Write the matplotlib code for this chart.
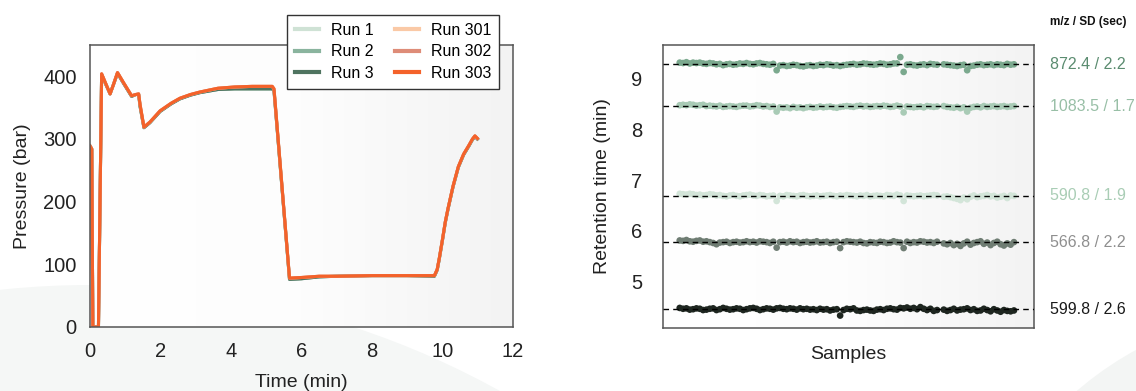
import numpy as np
import matplotlib.pyplot as plt
from matplotlib.colors import LinearSegmentedColormap
from matplotlib.patches import Circle

plt.rcParams['font.family'] = ['Liberation Sans', 'DejaVu Sans']

# 1. pressure traces (left)

time_min = [0.0, 0.05, 0.08, 0.24, 0.33, 0.45, 0.57, 0.66, 0.78, 0.95,
            1.18, 1.30, 1.38, 1.42, 1.53, 1.70, 1.99, 2.30, 2.55, 2.85,
            3.12, 3.63, 4.10, 4.60, 5.00, 5.17, 5.22, 5.66, 6.00, 6.50,
            7.00, 8.00, 9.00, 9.77, 9.85, 9.91, 10.00, 10.08, 10.16, 10.30,
            10.45, 10.60, 10.75, 10.85, 10.92, 10.99]

pressure_green = [289, 284, 0, 0, 403, 387, 372, 386, 405, 389,
                  368, 371, 371, 352, 318, 326, 344, 356, 364, 370,
                  374, 379, 380, 380, 380, 380, 377, 76, 77, 80,
                  81, 82, 82, 81, 91, 109, 139, 167, 189, 224,
                  255, 275, 289, 299, 304, 300]

pressure_orange = [289, 284, 0, 0, 404, 388, 372, 386, 406, 390,
                   369, 371, 372, 355, 319, 327, 345, 357, 365, 371,
                   375, 381, 383, 384, 384, 384, 380, 78, 79, 81,
                   81, 82, 82, 82, 92, 110, 140, 168, 190, 225,
                   256, 276, 290, 300, 305, 301]

run_labels = ['Run 1', 'Run 2', 'Run 3', 'Run 301', 'Run 302', 'Run 303']
run_colors = ['#cfe2d5', '#8ab49e', '#4f7460', '#fac9a6', '#de8c78', '#f4622a']
run_traces = [pressure_green, pressure_green, pressure_green,
              pressure_orange, pressure_orange, pressure_orange]

# 2. retention time per sample (right), deviations in seconds

sample_ids = list(range(1, 79)) + list(range(80, 102))

rt_mean = [9.28, 8.45, 6.69, 5.78, 4.46]
rt_labels = ['872.4 / 2.2', '1083.5 / 1.7', '590.8 / 1.9', '566.8 / 2.2', '599.8 / 2.6']
rt_point_colors = ['#7ba98e', '#a9cbb6', '#d3e5d9', '#6f7d73', '#1e2620']
rt_text_colors = ['#5b8c70', '#98bfa6', '#a9cdb5', '#8f8f8f', '#1a1a1a']

dev_872 = [2.0, 1.5, 2.5, 1.0, 2.0, 1.5, 2.0, 1.0, 0.5, 1.5,
           1.0, 0.0, 0.5, -1.0, 0.0, 0.5, -0.5, 0.0, 1.0, 0.5,
           1.5, 0.5, 0.0, 1.0, 1.5, 0.5, 0.0, -0.5, 0.5, -7.0,
           -1.5, -1.0, -2.0, -1.5, -0.5, -1.0, -2.0, -2.5, -1.5, -1.0,
           -2.0, -1.5, -0.5, -1.0, 0.0, -0.5, -1.5, -1.0, -2.0, -1.0,
           -0.5, 0.0, 0.5, -0.5, 0.0, 1.0, 0.5, 0.0, -0.5, 0.0,
           1.0, 0.5, -0.5, 0.0, 1.0, 1.0, 8.5, -9.0, -0.5, 0.0,
           -1.0, -1.5, -0.5, 0.0, -1.0, 0.5, 0.0, -0.5, 0.0, -0.5,
           -1.0, -1.5, -2.0, -1.0, -0.5, -7.0, -2.0, -1.5, -0.5, 0.0,
           -1.0, -0.5, 0.0, -1.0, 0.0, -0.5, -1.0, 0.5, -0.5, 0.0]

dev_1083 = [1.5, 2.0, 1.5, 2.5, 2.0, 1.0, 1.5, 2.0, 0.5, 1.0,
            0.5, 0.0, 1.0, -0.5, 0.0, 0.5, 0.0, -0.5, 0.5, 1.0,
            1.0, 0.0, 0.5, 1.5, 1.0, 0.0, 0.5, -0.5, 0.0, -6.0,
            -1.0, -1.5, -1.0, -2.0, -0.5, -1.5, -1.0, -2.0, -1.0, -0.5,
            -1.5, -1.0, 0.0, -1.0, -0.5, 0.0, -1.0, -1.5, -0.5, 0.0,
            0.5, 0.0, -0.5, 0.5, 1.0, 0.0, 0.5, -0.5, 0.0, 0.5,
            0.0, 1.0, 0.5, -0.5, 0.0, 1.0, 0.0, -7.0, 0.0, -0.5,
            -1.0, -0.5, 0.0, -1.0, 0.5, 0.0, -0.5, 0.0, 0.5, -0.5,
            -1.0, -1.5, -0.5, -2.0, -1.0, -6.0, -1.5, -0.5, 0.0, -1.0,
            0.5, -0.5, 0.0, 0.5, -0.5, 0.0, 0.5, -0.5, 0.0, 0.5]

dev_590 = [2.5, 2.0, 1.5, 2.5, 2.0, 1.0, 1.5, 0.5, 1.0, 2.0,
           1.5, 0.5, 1.0, 0.0, -0.5, 0.5, 1.0, 0.0, -0.5, 0.5,
           1.0, 1.5, 0.5, 0.0, 1.0, 0.5, -0.5, 0.0, 0.5, -6.0,
           0.0, -0.5, 1.0, 0.5, 0.0, -0.5, 0.5, 1.0, 0.0, -0.5,
           0.0, 0.5, -0.5, 0.0, 0.5, 1.0, 0.0, -0.5, 0.5, 0.0,
           1.0, 0.5, 0.0, -0.5, 0.5, 0.0, 1.0, -0.5, 0.0, 0.5,
           0.0, -0.5, 1.0, 0.5, 0.0, 1.5, 0.5, -6.0, 0.5, 0.0,
           -0.5, 0.0, 0.5, -0.5, 0.0, 0.5, 1.0, 0.5, -1.0, -0.5,
           -1.5, -2.5, -3.5, -5.0, -2.0, -4.0, -1.0, 0.5, -1.5, -0.5,
           0.0, 1.0, -0.5, 0.0, -2.0, -1.0, 0.0, -2.5, 0.5, 0.0]

dev_566 = [2.0, 1.5, 2.5, 1.0, 0.5, 1.5, 2.0, 0.5, 1.0, 0.0,
           -1.0, -2.5, -0.5, 0.0, 0.5, -1.0, 0.0, 0.5, -0.5, 0.0,
           1.0, 0.0, 0.5, -0.5, 1.0, 0.5, 0.0, -1.0, 0.5, -6.5,
           0.0, 0.5, -0.5, 1.0, 0.0, 0.5, -1.0, 0.0, 0.5, -0.5,
           0.0, 1.0, -0.5, 0.0, 0.5, -1.0, 0.0, 0.5, -7.0, 0.0,
           1.0, 0.5, 0.0, -0.5, 0.5, -1.0, -1.5, 0.0, -0.5, -1.0,
           0.5, 0.0, -1.0, -0.5, 1.0, 0.0, -0.5, -7.0, 0.5, -1.0,
           0.0, -0.5, 1.0, 0.5, -0.5, 0.0, -1.0, 0.5, -1.5, -2.5,
           -1.0, -3.5, -2.0, -4.5, -1.5, 0.5, -3.0, -1.0, 0.0, 1.0,
           -2.0, -0.5, -3.5, -1.0, 0.5, -2.5, -4.0, -1.5, -3.0, 0.0]

dev_599 = [1.5, 0.5, 1.0, -0.5, 0.0, 1.0, 0.5, -1.0, -0.5, 0.5,
           1.0, -1.0, 0.0, 1.5, 0.5, -0.5, 0.0, 1.0, 0.5, -1.0,
           0.0, 1.0, 1.5, 0.5, -1.0, 0.0, 1.0, 0.5, -0.5, 1.0,
           1.5, 0.5, 0.0, 1.0, 0.5, -0.5, 1.0, 0.0, 0.5, -0.5,
           0.0, -1.0, 0.5, -0.5, 0.0, -1.5, -0.5, 0.0, -7.5, -1.0,
           0.5, 0.0, 1.0, -1.5, -2.0, -1.0, -0.5, -1.5, -2.0, -0.5,
           0.0, -1.0, 0.5, 1.0, 0.0, -0.5, 1.5, 1.0, 2.0, 0.5,
           1.5, 0.0, 2.5, 0.5, -1.0, 0.5, -2.0, -1.0, -0.5, -2.0,
           -1.0, 0.5, -1.5, -0.5, 0.0, 1.0, -1.0, 0.0, -2.0, -1.5,
           0.5, -1.0, -2.5, 0.0, -1.5, -3.0, -1.0, -2.0, -2.5, -1.5]

rt_deviations = [dev_872, dev_1083, dev_590, dev_566, dev_599]

# 3. figure

fig = plt.figure(figsize=(11.36, 3.91), dpi=100, facecolor='white')

# faint background shapes
fig.add_artist(Circle((0.90, -7.40), 8.46, transform=fig.dpi_scale_trans,
                      facecolor='#f5f7f6', edgecolor='none', zorder=0))
fig.add_artist(Circle((13.0, -2.59), 3.42, transform=fig.dpi_scale_trans,
                      facecolor='#f3f5f4', edgecolor='none', zorder=0))

grad_cmap = LinearSegmentedColormap.from_list('grad', ['#ffffff', '#fdfdfd', '#f3f3f3'])
gradient = np.linspace(0, 1, 256).reshape(1, -1)

ax1 = fig.add_axes([90/1136, 1 - 327/391, 423/1136, 282/391])
ax2 = fig.add_axes([663/1136, 1 - 328/391, 371/1136, 283/391])

for ax in (ax1, ax2):
    ax.imshow(gradient, cmap=grad_cmap, extent=[0, 1, 0, 1], transform=ax.transAxes,
              aspect='auto', zorder=0)
    for sp in ax.spines.values():
        sp.set_color('#555555')
        sp.set_linewidth(1.1)

# left: pressure
for label, color, trace in zip(run_labels, run_colors, run_traces):
    ax1.plot(time_min, trace, color=color, linewidth=2.2, label=label, zorder=2)

ax1.set_xlim(0, 12)
ax1.set_ylim(0, 450)
ax1.set_xticks([0, 2, 4, 6, 8, 10, 12])
ax1.set_yticks([0, 100, 200, 300, 400])
ax1.tick_params(axis='x', length=0, pad=11, labelsize=14.5, labelcolor='#222222')
ax1.tick_params(axis='y', length=0, pad=9.5, labelsize=14.5, labelcolor='#222222')
ax1.set_xlabel('Time (min)', fontsize=14, color='#222222', labelpad=9)
ax1.set_ylabel('Pressure (bar)', fontsize=14, color='#222222', labelpad=9)

leg = ax1.legend(ncol=2, loc='upper right', bbox_to_anchor=(499/1136, 1 - 15/391),
                 bbox_transform=fig.transFigure, fontsize=11.5, frameon=True,
                 fancybox=False, framealpha=1, edgecolor='#333333',
                 handlelength=1.5, handletextpad=0.75, columnspacing=1.3,
                 labelspacing=0.4, borderpad=0.5, borderaxespad=0)
leg.get_frame().set_linewidth(1.0)
leg.set_zorder(5)
for h in leg.get_lines():
    h.set_linewidth(3)

# right: retention times
for mean, dev, pcolor in zip(rt_mean, rt_deviations, rt_point_colors):
    rt = mean + np.array(dev) / 60.0
    ax2.scatter(sample_ids, rt, s=23, color=pcolor, edgecolors='none', zorder=2)
    ax2.axhline(mean, color='black', linestyle=(0, (4, 3)), linewidth=1.0, zorder=3)

for mean, text, tcolor in zip(rt_mean, rt_labels, rt_text_colors):
    ax2.text((1050 - 663) / 371, mean, text, transform=ax2.get_yaxis_transform(),
             color=tcolor, fontsize=11.5, va='center', ha='left')

fig.text(1050/1136, 1 - 22/391, 'm/z / SD (sec)', fontsize=8.5, fontweight='bold',
         color='#111111', va='center', ha='left')

ax2.set_xlim(-4, 107)
ax2.set_ylim(4.09, 9.66)
ax2.set_xticks([])
ax2.set_yticks([9, 8, 7, 6, 5])
ax2.tick_params(axis='y', length=0, pad=15, labelsize=14.5, labelcolor='#222222')
ax2.set_xlabel('Samples', fontsize=14, color='#222222', labelpad=13)
ax2.set_ylabel('Retention time (min)', fontsize=14, color='#222222', labelpad=14)

plt.savefig('out.png', dpi=100, facecolor=fig.get_facecolor())
